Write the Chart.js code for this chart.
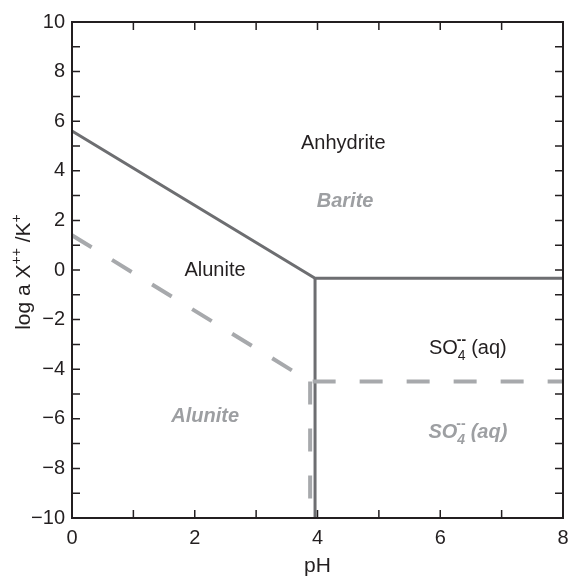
<!DOCTYPE html>
<html>
<head>
<meta charset="utf-8">
<script src="https://cdn.jsdelivr.net/npm/chart.js@4.4.0/dist/chart.umd.min.js"></script>
<style>
  html, body { margin: 0; padding: 0; background: #fff; }
  #wrap { width: 570px; height: 577px; }
</style>
</head>
<body>
<div id="wrap"><canvas id="chart"></canvas></div>
<script>
// Anhydrite / alunite / SO4 boundaries (solid)
const anhBoundaryPH = [0, 3.96, 8];
const anhBoundaryLog = [5.6, -0.33, -0.33];
const anhVerticalPH = [3.96, 3.96];
const anhVerticalLog = [-0.33, -10];

// Barite / alunite / SO4 boundaries (dashed)
const barBoundaryPH = [0, 3.88, 8];
const barBoundaryLog = [1.4, -4.5, -4.5];
const barVerticalPH = [3.88, 3.88];
const barVerticalLog = [-4.5, -10];

const xTicks = [0, 2, 4, 6, 8];
const yTicks = [-10, -8, -6, -4, -2, 0, 2, 4, 6, 8, 10];

const FONT = '"Liberation Sans", Arial, Helvetica, sans-serif';
const INK = "#231f20";
const SOLID = "#6d6e71";
const DASHED = "#a7a9ac";

function toPoints(xs, ys) {
  return xs.map((x, i) => ({ x: x, y: ys[i] }));
}

function lineSet(xs, ys, color, width, dash) {
  return {
    data: toPoints(xs, ys),
    showLine: true,
    borderColor: color,
    borderWidth: width,
    borderDash: dash,
    pointRadius: 0,
    fill: false,
    borderCapStyle: "butt",
    borderJoinStyle: "miter",
  };
}

// draws "SO4--" with subscript 4 and the charge above it, then " (aq)"
function drawSulfate(ctx, cx, y, color, style) {
  const big = style + " 20px " + FONT;
  const small = style + " 14px " + FONT;
  ctx.font = big;
  const wSO = ctx.measureText("SO").width;
  const wAq = ctx.measureText(" (aq)").width;
  ctx.font = small;
  const w4 = ctx.measureText("4").width;
  let x = cx - (wSO + w4 + wAq) / 2;
  ctx.fillStyle = color;
  ctx.textAlign = "left";
  ctx.textBaseline = "alphabetic";
  ctx.font = big;
  ctx.fillText("SO", x, y);
  x += wSO;
  ctx.font = small;
  ctx.fillText("4", x, y + 6);
  ctx.font = "bold 14px " + FONT;
  ctx.fillText("--", x - 1, y - 10);
  x += w4;
  ctx.font = big;
  ctx.fillText(" (aq)", x, y);
}

const framePlugin = {
  id: "frame",
  afterDraw(chart) {
    const ctx = chart.ctx;
    const a = chart.chartArea;
    const xs = chart.scales.x;
    const ys = chart.scales.y;
    ctx.save();
    ctx.strokeStyle = INK;
    ctx.lineWidth = 2;
    ctx.strokeRect(a.left, a.top, a.right - a.left, a.bottom - a.top);
    ctx.lineWidth = 1.5;
    ctx.beginPath();
    for (let v = 0; v <= 8; v++) {
      const px = xs.getPixelForValue(v);
      ctx.moveTo(px, a.bottom); ctx.lineTo(px, a.bottom - 8);
      ctx.moveTo(px, a.top); ctx.lineTo(px, a.top + 8);
    }
    for (let v = -10; v <= 10; v++) {
      const py = ys.getPixelForValue(v);
      ctx.moveTo(a.left, py); ctx.lineTo(a.left + 8, py);
      ctx.moveTo(a.right, py); ctx.lineTo(a.right - 8, py);
    }
    ctx.stroke();

    // region labels
    const px = (v) => xs.getPixelForValue(v);
    const py = (v) => ys.getPixelForValue(v);
    ctx.textAlign = "center";
    ctx.textBaseline = "middle";
    ctx.fillStyle = INK;
    ctx.font = "20px " + FONT;
    ctx.fillText("Anhydrite", px(4.42), py(5.1));
    ctx.fillText("Alunite", px(2.33), py(0.0));
    ctx.fillStyle = "#9d9fa2";
    ctx.font = "italic bold 20px " + FONT;
    ctx.fillText("Barite", px(4.45), py(2.78));
    ctx.fillText("Alunite", px(2.17), py(-5.9));

    drawSulfate(ctx, px(6.45), py(-3.1) + 7, INK, "normal");
    drawSulfate(ctx, px(6.45), py(-6.5) + 7, "#9d9fa2", "italic bold");

    // x title
    ctx.fillStyle = INK;
    ctx.textAlign = "center";
    ctx.textBaseline = "alphabetic";
    ctx.font = "21px " + FONT;
    ctx.fillText("pH", (a.left + a.right) / 2, 572);

    // y title with superscripts
    ctx.translate(30, (a.top + a.bottom) / 2 + 2);
    ctx.rotate(-Math.PI / 2);
    const parts = [
      ["log a X", 21, 0],
      ["++", 14, -9],
      [" /K", 21, 0],
      ["+", 14, -9],
    ];
    let total = 0;
    parts.forEach((p) => {
      ctx.font = p[1] + "px " + FONT;
      total += ctx.measureText(p[0]).width;
    });
    let x = -total / 2;
    ctx.textAlign = "left";
    parts.forEach((p) => {
      ctx.font = p[1] + "px " + FONT;
      ctx.fillText(p[0], x, p[2]);
      x += ctx.measureText(p[0]).width;
    });
    ctx.restore();
  },
};

new Chart(document.getElementById("chart"), {
  type: "scatter",
  data: {
    datasets: [
      lineSet(barBoundaryPH, barBoundaryLog, DASHED, 4, [23, 24]),
      lineSet(barVerticalPH, barVerticalLog, DASHED, 4, [23, 24]),
      lineSet(anhBoundaryPH, anhBoundaryLog, SOLID, 3, []),
      lineSet(anhVerticalPH, anhVerticalLog, SOLID, 3, []),
    ],
  },
  options: {
    responsive: true,
    maintainAspectRatio: false,
    animation: false,
    layout: { padding: { top: 22, right: 7, left: 0, bottom: 0 } },
    plugins: { legend: { display: false }, tooltip: { enabled: false } },
    scales: {
      x: {
        type: "linear",
        min: 0,
        max: 8,
        afterBuildTicks: (s) => { s.ticks = xTicks.map((v) => ({ value: v })); },
        afterFit: (s) => {
          s.height = 59;
          s.paddingLeft = 0;
          s.paddingRight = 0;
        },
        grid: { display: false, drawTicks: false },
        border: { display: false },
        ticks: {
          padding: 8,
          color: INK,
          font: { family: FONT, size: 20 },
          maxRotation: 0,
        },
      },
      y: {
        type: "linear",
        min: -10,
        max: 10,
        afterBuildTicks: (s) => { s.ticks = yTicks.map((v) => ({ value: v })); },
        afterFit: (s) => {
          s.width = 72;
          s.paddingTop = 0;
          s.paddingBottom = 0;
        },
        grid: { display: false, drawTicks: false },
        border: { display: false },
        ticks: {
          padding: 7,
          color: INK,
          font: { family: FONT, size: 20 },
          callback: (v) => String(v).replace("-", "\u2212"),
        },
      },
    },
  },
  plugins: [framePlugin],
});
</script>
</body>
</html>
